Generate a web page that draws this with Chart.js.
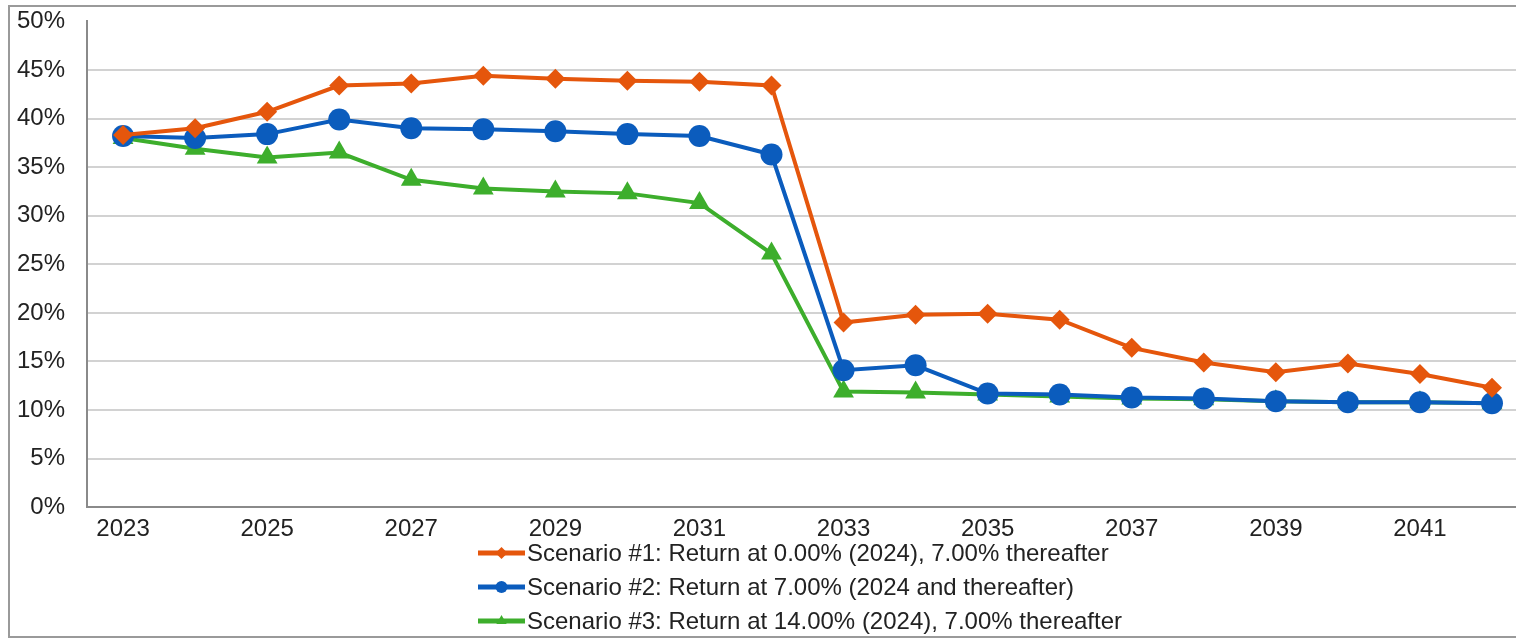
<!DOCTYPE html>
<html>
<head>
<meta charset="utf-8">
<script src="https://cdn.jsdelivr.net/npm/chart.js@4"></script>
<style>
  html, body { margin: 0; padding: 0; background: #fff; overflow: hidden; }
  #wrap { width: 1516px; height: 639px; position: relative; overflow: hidden; }
  #chart { position: absolute; left: 0; top: -15px; }
</style>
</head>
<body>
<div id="wrap"><canvas id="chart" width="1540" height="654"></canvas></div>
<script>
    const years = ['2023', '2024', '2025', '2026', '2027', '2028', '2029', '2030', '2031', '2032',
                   '2033', '2034', '2035', '2036', '2037', '2038', '2039', '2040', '2041', '2042'];
    const yTicks = [0, 5, 10, 15, 20, 25, 30, 35, 40, 45, 50];

    const scenario1 = [38.3, 39.0, 40.7, 43.4, 43.6, 44.4, 44.1, 43.9, 43.8, 43.4,
                       19.0, 19.8, 19.9, 19.3, 16.4, 14.9, 13.9, 14.8, 13.7, 12.3];
    const scenario2 = [38.2, 38.0, 38.4, 39.9, 39.0, 38.9, 38.7, 38.4, 38.2, 36.3,
                       14.1, 14.6, 11.7, 11.6, 11.3, 11.2, 10.9, 10.8, 10.8, 10.7];
    const scenario3 = [38.0, 36.9, 36.0, 36.5, 33.7, 32.8, 32.5, 32.3, 31.3, 26.1,
                       11.9, 11.8, 11.6, 11.4, 11.2, 11.1, 10.9, 10.8, 10.8, 10.7];

    const names = [
      'Scenario #1: Return at 0.00% (2024), 7.00% thereafter',
      'Scenario #2: Return at 7.00% (2024 and thereafter)',
      'Scenario #3: Return at 14.00% (2024), 7.00% thereafter'
    ];
    const colors = ['#e5560c', '#0b5cbd', '#3dae2c'];
    const markers = ['rectRot', 'circle', 'triangle'];
    const markerSizes = [10, 11, 12];

    const FONT = "'Liberation Sans', Arial, sans-serif";
    const SHIFT = 15; // canvas is moved up by this much so the plot starts near the top

    // frame around the whole picture + legend drawn one item per row
    const framePlugin = {
      id: 'frame',
      beforeDraw(chart) {
        const ctx = chart.ctx;
        ctx.save();
        ctx.fillStyle = '#fff';
        ctx.fillRect(0, 0, chart.width, chart.height);
        ctx.strokeStyle = '#9a9a9a';
        ctx.lineWidth = 2;
        ctx.beginPath();
        ctx.moveTo(1540, 6 + SHIFT);
        ctx.lineTo(9, 6 + SHIFT);
        ctx.lineTo(9, 637 + SHIFT);
        ctx.lineTo(1540, 637 + SHIFT);
        ctx.stroke();
        ctx.restore();
      },
      afterDraw(chart) {
        const ctx = chart.ctx;
        ctx.save();
        chart.data.datasets.forEach((ds, i) => {
          const y = 553 + i * 34 + SHIFT;
          const x0 = 478, x1 = 525;
          ctx.strokeStyle = ds.borderColor;
          ctx.lineWidth = 5;
          ctx.beginPath();
          ctx.moveTo(x0, y);
          ctx.lineTo(x1, y);
          ctx.stroke();
          ctx.fillStyle = ds.borderColor;
          Chart.helpers.drawPoint(ctx, {
            pointStyle: ds.pointStyle, radius: 6, borderWidth: 0, rotation: 0
          }, (x0 + x1) / 2, y);
          ctx.fillStyle = '#222';
          ctx.font = '24px ' + FONT;
          ctx.textBaseline = 'middle';
          ctx.textAlign = 'left';
          ctx.fillText(ds.label, 527, y + 1);
        });
        ctx.restore();
      }
    };

    const seriesValues = [scenario1, scenario2, scenario3];

    const chart = new Chart(document.getElementById('chart'), {
      type: 'line',
      data: {
        labels: years,
        datasets: seriesValues.map((vals, i) => ({
          label: names[i],
          data: vals,
          borderColor: colors[i],
          backgroundColor: colors[i],
          borderWidth: 4,
          pointStyle: markers[i],
          pointRadius: markerSizes[i],
          pointBorderWidth: 0,
          tension: 0
        }))
      },
      options: {
        responsive: false,
        animation: false,
        layout: {
          padding: { left: -5, right: 10, top: 0, bottom: 87 }
        },
        plugins: {
          legend: { display: false },
          tooltip: { enabled: false }
        },
        scales: {
          x: {
            offset: true,
            grid: { display: false, drawTicks: false },
            border: { color: '#8a8a8a', width: 2 },
            ticks: {
              autoSkip: false,
              maxRotation: 0,
              padding: 8,
              color: '#222',
              font: { family: FONT, size: 24 },
              callback: (v, i) => (i % 2 === 0 ? years[i] : '')
            }
          },
          y: {
            min: 0,
            max: 50,
            afterBuildTicks: (axis) => {
              axis.ticks = yTicks.map(v => ({ value: v }));
            },
            grid: {
              drawTicks: false,
              lineWidth: 2,
              color: (c) => (c.tick && c.tick.value === 50 ? 'rgba(0,0,0,0)' : '#d2d2d2')
            },
            border: { color: '#8a8a8a', width: 2 },
            ticks: {
              padding: 22,
              color: '#222',
              font: { family: FONT, size: 24 },
              callback: (v) => v + '%'
            }
          }
        }
      },
      plugins: [framePlugin]
    });
</script>
</body>
</html>
